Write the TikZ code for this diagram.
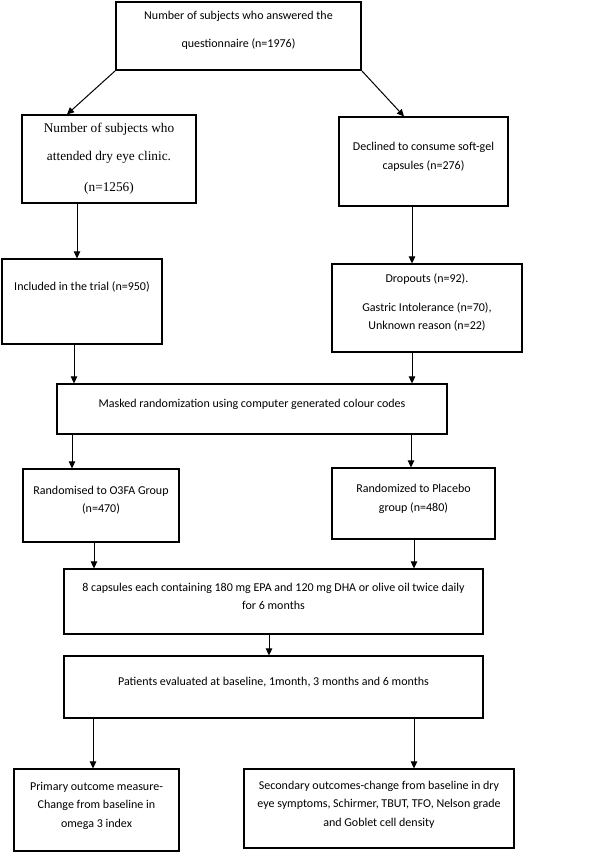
\documentclass[tikz,border=0pt]{standalone}
\usepackage{fontspec}
\setmainfont{Carlito}
\newfontfamily\clinicfont{Liberation Serif}
\usetikzlibrary{arrows.meta}
\newcommand{\liftup}[1]{\\[#1]\mbox{}}

\begin{document}
\begin{tikzpicture}[x=1pt, y=-1pt,
    box/.style={draw, line width=1.2pt, align=center, inner sep=0pt, font=\fontsize{12}{18.5}\selectfont},
    arr/.style={-{Triangle[length=7pt, width=6.5pt]}, line width=1pt}]
    \useasboundingbox (0,0) rectangle (604,853);
    \node[box, line width=1.8pt, minimum width=245pt, minimum height=68pt] (quest) at (238.5,36) {Number of subjects who answered the\\[9.5pt] questionnaire (n=1976)\liftup{-5.5pt}};
    \node[box, minimum width=174pt, minimum height=88pt, font=\clinicfont\fontsize{13.3}{28}\selectfont] (clinic) at (109,159) {Number of subjects who\\ attended dry eye clinic.\\[3pt] (n=1256)};
    \node[box, minimum width=169pt, minimum height=89pt] (declined) at (423.5,161.5) {Declined to consume soft-gel\\ capsules (n=276)\liftup{-7.5pt}};
    \node[box, minimum width=160pt, minimum height=85pt] (incl) at (82,301.5) {Included in the trial (n=950)\liftup{11.5pt}};
    \node[box, minimum width=190pt, minimum height=88pt] (drop) at (427,308) {Dropouts (n=92).\\[10.5pt] Gastric Intolerance (n=70),\\ Unknown reason (n=22)\liftup{-5.5pt}};
    \node[box, minimum width=390pt, minimum height=50pt] (masked) at (252,409) {Masked randomization using computer generated colour codes\liftup{-7.5pt}};
    \node[box, minimum width=156pt, minimum height=73pt] (otfa) at (101,505.5) {Randomised to O3FA Group\\ (n=470)\liftup{-6.5pt}};
    \node[box, minimum width=163pt, minimum height=71pt] (placebo) at (413.5,503.5) {Randomized to Placebo\\ group (n=480)\liftup{-7.5pt}};
    \node[box, minimum width=419pt, minimum height=65pt] (caps) at (273.5,601.5) {8 capsules each containing 180 mg EPA and 120 mg DHA or olive oil twice daily\\ for 6 months\liftup{-8.5pt}};
    \node[box, minimum width=419pt, minimum height=62pt] (eval) at (273.5,687) {Patients evaluated at baseline, 1month, 3 months and 6 months\liftup{-7.5pt}};
    \node[box, minimum width=165pt, minimum height=82pt] (primary) at (96.5,810) {Primary outcome measure-\\ Change from baseline in\\ omega 3 index\liftup{-7.5pt}};
    \node[box, minimum width=270pt, minimum height=79pt] (second) at (379,808.5) {Secondary outcomes-change from baseline in dry\\ eye symptoms, Schirmer, TBUT, TFO, Nelson grade\\ and Goblet cell density\liftup{-8.5pt}};
    % arrows, top to bottom
    \draw[arr] (quest.south west) -- (clinic.north -| 67,0);
    \draw[arr] (quest.south east) -- (declined.north -| 404,0);
    \draw[arr] (clinic.south -| 77,0) -- (incl.north -| 77,0);
    \draw[arr] (declined.south -| 412,0) -- (drop.north -| 412,0);
    \draw[arr] (incl.south -| 74,0) -- (masked.north -| 74,0);
    \draw[arr] (drop.south -| 412,0) -- (masked.north -| 412,0);
    \draw[arr] (masked.south -| 72,0) -- (otfa.north -| 72,0);
    \draw[arr] (masked.south -| 411,0) -- (placebo.north -| 411,0);
    \draw[arr] (otfa.south -| 94,0) -- (caps.north -| 94,0);
    \draw[arr] (placebo.south -| 414,0) -- (caps.north -| 414,0);
    \draw[arr] (caps.south -| 269,0) -- (eval.north -| 269,0);
    \draw[arr] (eval.south -| 93,0) -- (primary.north -| 93,0);
    \draw[arr] (eval.south -| 414,0) -- (second.north -| 414,0);
\end{tikzpicture}
\end{document}
